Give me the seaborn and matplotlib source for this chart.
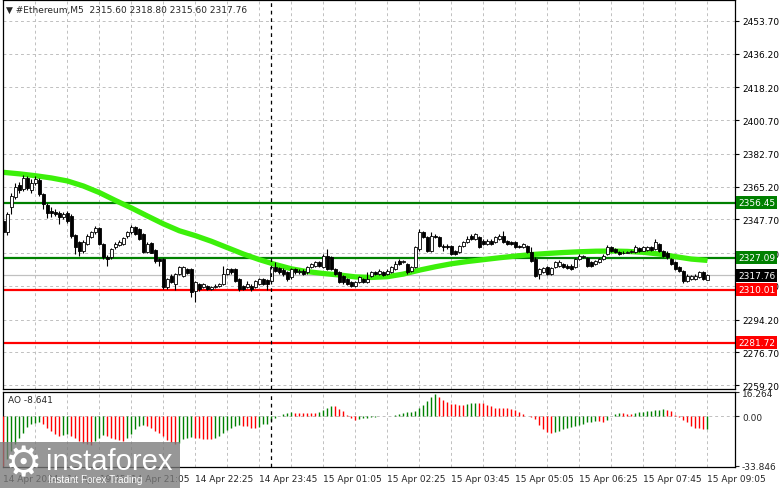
import numpy as np
import pandas as pd
import matplotlib
matplotlib.use("Agg")
import matplotlib.pyplot as plt
import matplotlib.transforms as mtransforms
from matplotlib.patches import Rectangle
import seaborn as sns

# M5 candles, 14 Apr 18:25 -> 15 Apr 09:05
opens = [2347.0, 2340.8, 2354.2, 2359.5, 2366.3, 2364.0, 2370.0, 2363.5, 2367.0, 2368.8,
         2361.3, 2355.6, 2352.4, 2351.8, 2351.0, 2348.8, 2351.0, 2349.7, 2339.6, 2335.5,
         2331.0, 2334.6, 2338.2, 2340.8, 2343.1, 2334.6, 2327.5, 2327.5, 2332.8, 2334.2,
         2334.6, 2339.0, 2340.8, 2343.5, 2342.6, 2340.0, 2330.1, 2334.9, 2331.4, 2326.6,
         2326.6, 2311.4, 2317.7, 2313.2, 2318.6, 2317.6, 2321.0, 2321.2, 2309.6, 2313.2,
         2311.4, 2312.3, 2310.5, 2311.4, 2312.3, 2313.2, 2318.5, 2321.2, 2321.2, 2315.9,
         2312.3, 2311.4, 2312.3, 2311.4, 2313.2, 2315.9, 2315.3, 2315.0, 2322.1, 2321.6,
         2320.8, 2319.4, 2316.8, 2321.2, 2319.4, 2320.3, 2319.4, 2322.1, 2323.0, 2324.8,
         2322.1, 2328.3, 2327.4, 2321.2, 2319.4, 2317.6, 2315.9, 2314.1, 2312.3, 2314.1,
         2315.9, 2314.5, 2317.6, 2319.4, 2318.5, 2319.4, 2318.5, 2319.4, 2321.2, 2325.7,
         2324.8, 2323.9, 2320.3, 2322.1, 2331.9, 2340.8, 2338.1, 2331.0, 2339.0, 2338.1,
         2333.7, 2333.7, 2333.7, 2331.0, 2330.1, 2333.7, 2335.4, 2339.0, 2337.2, 2338.1,
         2336.3, 2334.5, 2336.3, 2335.4, 2337.2, 2339.0, 2336.3, 2335.4, 2335.4, 2333.7,
         2332.8, 2333.7, 2330.1, 2326.5, 2318.5, 2319.8, 2322.1, 2318.5, 2322.1, 2323.0,
         2323.9, 2323.0, 2323.0, 2322.1, 2326.5, 2327.4, 2326.9, 2324.8, 2323.9, 2324.8,
         2326.5, 2329.2, 2332.8, 2331.9, 2330.1, 2329.5, 2330.0, 2330.5, 2330.1, 2332.2,
         2331.0, 2331.5, 2332.8, 2331.9, 2334.5, 2331.0, 2330.0, 2326.5, 2324.8, 2322.1,
         2320.3, 2315.0, 2315.9, 2315.9, 2316.8, 2319.4, 2315.6]
closes = [2340.8, 2350.6, 2360.0, 2364.8, 2363.4, 2370.0, 2364.5, 2367.0, 2369.0, 2361.3,
          2356.0, 2351.0, 2351.0, 2350.6, 2348.8, 2350.6, 2347.0, 2339.0, 2332.8, 2330.7,
          2335.5, 2339.0, 2340.8, 2343.0, 2334.6, 2327.5, 2326.6, 2331.9, 2334.6, 2335.5,
          2337.8, 2340.8, 2343.8, 2340.0, 2337.3, 2330.1, 2334.6, 2330.0, 2325.7, 2325.7,
          2311.4, 2315.9, 2314.1, 2318.6, 2322.1, 2322.1, 2319.0, 2308.7, 2314.1, 2310.5,
          2313.2, 2310.5, 2311.4, 2312.3, 2313.2, 2318.5, 2321.2, 2319.4, 2315.0, 2310.5,
          2310.5, 2313.2, 2310.5, 2315.0, 2315.9, 2313.2, 2313.2, 2322.1, 2320.3, 2319.4,
          2318.5, 2315.9, 2321.2, 2319.4, 2320.3, 2318.5, 2322.1, 2323.9, 2324.8, 2323.0,
          2328.3, 2321.2, 2321.2, 2318.5, 2314.1, 2314.1, 2313.2, 2312.3, 2314.1, 2316.8,
          2314.1, 2315.9, 2319.4, 2318.5, 2320.3, 2318.0, 2320.3, 2322.1, 2323.9, 2323.9,
          2325.7, 2319.4, 2322.1, 2332.8, 2340.8, 2338.1, 2331.0, 2339.0, 2338.1, 2333.7,
          2332.8, 2332.8, 2329.2, 2329.2, 2333.7, 2335.4, 2337.2, 2337.2, 2339.9, 2332.8,
          2334.5, 2336.3, 2334.5, 2338.1, 2339.0, 2335.4, 2334.5, 2334.5, 2332.8, 2332.8,
          2334.5, 2330.1, 2325.7, 2317.6, 2321.2, 2321.6, 2318.5, 2321.6, 2324.8, 2325.0,
          2322.1, 2321.6, 2321.2, 2326.5, 2328.3, 2328.0, 2323.0, 2323.0, 2325.7, 2326.5,
          2328.3, 2332.8, 2331.0, 2330.1, 2329.2, 2330.0, 2330.5, 2331.0, 2332.8, 2331.0,
          2332.8, 2332.8, 2331.5, 2335.4, 2331.0, 2328.3, 2327.4, 2323.9, 2321.2, 2320.3,
          2315.0, 2317.6, 2317.6, 2317.6, 2319.4, 2315.9, 2317.76]
highs = [2349.0, 2351.5, 2362.0, 2367.0, 2367.5, 2371.5, 2371.0, 2369.0, 2371.0, 2370.0,
         2362.0, 2356.5, 2354.5, 2353.0, 2352.0, 2351.5, 2352.0, 2350.5, 2340.0, 2336.0,
         2336.5, 2340.0, 2341.5, 2344.4, 2343.8, 2335.0, 2328.5, 2332.5, 2335.5, 2336.5,
         2338.5, 2341.5, 2344.5, 2344.0, 2343.0, 2340.5, 2335.5, 2335.5, 2332.0, 2327.0,
         2327.0, 2316.5, 2318.5, 2319.0, 2322.8, 2322.8, 2322.0, 2321.8, 2315.0, 2313.8,
         2314.0, 2312.8, 2312.0, 2313.0, 2314.0, 2323.0, 2322.0, 2322.0, 2321.8, 2316.5,
         2312.8, 2315.0, 2313.0, 2315.5, 2316.5, 2316.5, 2316.0, 2323.0, 2325.0, 2322.5,
         2321.5, 2320.0, 2322.0, 2322.0, 2321.0, 2321.0, 2323.0, 2324.5, 2325.5, 2325.5,
         2329.2, 2331.9, 2328.0, 2322.0, 2320.0, 2318.0, 2316.5, 2315.0, 2314.8, 2317.5,
         2316.5, 2319.4, 2320.0, 2320.0, 2321.0, 2320.0, 2321.0, 2322.8, 2325.7, 2326.6,
         2326.2, 2324.5, 2322.8, 2333.5, 2342.6, 2341.5, 2338.8, 2340.8, 2339.8, 2338.8,
         2334.8, 2334.5, 2334.2, 2331.5, 2334.2, 2336.0, 2339.0, 2339.9, 2340.5, 2338.8,
         2337.0, 2337.0, 2337.0, 2338.8, 2339.8, 2341.7, 2336.8, 2336.0, 2336.0, 2334.2,
         2335.0, 2334.2, 2333.0, 2327.5, 2321.8, 2322.2, 2322.8, 2322.2, 2325.5, 2325.8,
         2324.5, 2323.8, 2323.8, 2327.2, 2329.0, 2328.8, 2327.5, 2325.5, 2326.2, 2327.0,
         2329.0, 2334.0, 2333.5, 2332.5, 2330.8, 2330.6, 2331.0, 2331.6, 2334.0, 2332.8,
         2333.4, 2333.4, 2333.4, 2337.2, 2335.0, 2331.6, 2330.6, 2327.0, 2325.4, 2322.8,
         2320.9, 2318.4, 2318.2, 2318.4, 2320.0, 2320.0, 2318.8]
lows = [2338.5, 2339.5, 2350.5, 2358.5, 2362.0, 2363.0, 2363.5, 2362.0, 2366.0, 2360.0,
        2353.5, 2348.5, 2349.0, 2349.5, 2345.0, 2348.0, 2346.0, 2338.0, 2329.0, 2328.0,
        2330.0, 2334.0, 2337.5, 2340.0, 2334.0, 2326.5, 2323.0, 2326.5, 2332.0, 2333.5,
        2334.0, 2338.0, 2340.0, 2339.5, 2336.5, 2329.5, 2329.5, 2329.5, 2324.5, 2323.0,
        2310.5, 2310.5, 2313.5, 2310.0, 2318.0, 2317.0, 2318.5, 2306.5, 2303.5, 2309.5,
        2310.8, 2309.8, 2310.0, 2310.8, 2311.8, 2312.8, 2318.0, 2318.8, 2314.5, 2309.5,
        2309.8, 2310.8, 2309.5, 2310.8, 2312.5, 2312.5, 2310.0, 2314.5, 2319.5, 2318.5,
        2317.5, 2315.0, 2316.0, 2318.8, 2318.8, 2317.8, 2318.8, 2321.5, 2322.5, 2322.5,
        2321.5, 2320.5, 2320.5, 2317.8, 2313.5, 2313.0, 2312.5, 2311.5, 2311.5, 2313.5,
        2313.5, 2314.0, 2317.0, 2318.0, 2318.0, 2317.5, 2318.0, 2319.0, 2320.8, 2323.5,
        2324.2, 2318.8, 2319.8, 2321.5, 2331.0, 2337.5, 2330.5, 2330.5, 2337.5, 2333.0,
        2331.0, 2332.0, 2328.5, 2328.5, 2329.5, 2333.0, 2335.0, 2336.8, 2336.8, 2332.2,
        2334.0, 2334.0, 2334.0, 2335.0, 2336.8, 2335.0, 2334.0, 2333.8, 2332.2, 2332.2,
        2332.2, 2329.5, 2325.0, 2317.0, 2316.0, 2319.2, 2318.0, 2318.0, 2321.5, 2322.5,
        2321.5, 2321.0, 2320.5, 2321.5, 2326.0, 2327.0, 2322.5, 2322.5, 2323.5, 2324.2,
        2326.0, 2328.8, 2330.5, 2329.5, 2328.8, 2329.0, 2329.6, 2330.0, 2329.8, 2330.5,
        2330.6, 2331.0, 2331.0, 2331.5, 2330.5, 2327.8, 2326.8, 2323.2, 2320.6, 2319.6,
        2313.8, 2314.2, 2315.2, 2315.2, 2316.2, 2315.2, 2315.6]

# moving average, read every 4th bar
ma_values = [2372.8, 2372.0, 2371.0, 2369.8, 2368.2, 2365.5, 2362.0, 2357.8, 2353.8, 2349.5,
             2345.3, 2341.6, 2339.0, 2336.0, 2332.6, 2329.2, 2326.2, 2323.6, 2321.3, 2319.8,
             2318.8, 2318.0, 2317.0, 2316.7, 2317.1, 2318.5, 2320.6, 2322.4, 2324.0, 2325.2,
             2326.2, 2327.2, 2328.1, 2328.9, 2329.5, 2330.0, 2330.4, 2330.7, 2330.8, 2330.6,
             2330.1, 2329.2, 2327.8, 2326.5, 2325.8]

# Awesome Oscillator
ao_values = [-33.846, -29.3, -23.6, -19.1, -14.5, -11.1, -7.5, -5.5, -4.3, -3.6,
             -5.5, -7.7, -10.0, -12.3, -13.4, -13.0, -12.3, -13.4, -14.5, -16.8,
             -18.0, -19.1, -19.5, -16.8, -14.5, -12.7, -13.4, -14.5, -15.7, -16.4,
             -16.8, -14.5, -12.3, -8.9, -6.6, -5.9, -6.6, -8.2, -10.0, -11.1,
             -13.4, -16.4, -17.3, -18.6, -17.9, -15.7, -14.5, -14.1, -14.5, -15.0,
             -15.2, -15.5, -15.7, -14.5, -13.4, -11.1, -9.5, -7.7, -6.6, -6.1,
             -6.4, -6.8, -7.7, -8.2, -7.3, -5.5, -5.0, -3.5, -1.5, 0.2,
             1.6, 2.3, 2.7, 2.5, 2.4, 2.3, 2.2, 2.1, 2.0, 2.7,
             4.0, 5.5, 7.2, 6.8, 5.0, 3.5, 0.8, -1.4, -2.3, -1.8,
             -1.4, -0.9, -0.5, -0.3, 0.0, 0.2, 0.3, 0.5, 0.9, 1.6,
             2.3, 2.7, 3.2, 3.9, 5.5, 7.7, 10.7, 13.0, 15.2, 13.0,
             11.4, 10.0, 8.4, 8.2, 7.7, 7.6, 8.4, 8.9, 9.1, 9.0,
             8.9, 7.7, 6.8, 5.9, 5.7, 5.5, 5.4, 5.0, 4.5, 2.7,
             1.6, 0.5, -0.7, -1.8, -5.9, -8.6, -10.9, -11.4, -10.5, -9.8,
             -8.6, -8.2, -7.5, -6.8, -5.9, -5.0, -4.1, -3.6, -3.2, -3.4,
             -3.6, -2.5, 0.1, 1.6, 2.0, 1.9, 1.8, 1.7, 2.3, 2.7,
             3.2, 3.4, 3.9, 4.3, 4.5, 5.0, 4.5, 3.9, 0.9, -0.7,
             -2.3, -4.1, -6.4, -8.0, -8.2, -8.7, -8.641]

level_prices = [2356.45, 2327.09, 2310.01, 2281.72]
level_colors = ["#008000", "#008000", "#ff0000", "#ff0000"]
bid_price = 2317.76
price_ticks = [2453.70, 2436.20, 2418.20, 2400.70, 2382.70, 2365.20, 2347.70,
               2329.70, 2312.20, 2294.20, 2276.70, 2259.20]
time_labels = ["14 Apr 2024", "14 Apr 19:45", "14 Apr 21:05", "14 Apr 22:25",
               "14 Apr 23:45", "15 Apr 01:05", "15 Apr 02:25", "15 Apr 03:45",
               "15 Apr 05:05", "15 Apr 06:25", "15 Apr 07:45", "15 Apr 09:05"]
day_break = 67  # bar at 15 Apr 00:00

sns.set_style("white")
plt.rcParams['font.family'] = ['DejaVu Sans']

df = pd.DataFrame({'open': opens, 'close': closes, 'high': highs, 'low': lows})
df['bar'] = np.arange(len(df))
up = df['close'] >= df['open']

W, H = 781, 489
def box(l, t, r, b):
    return [l / W, 1 - b / H, (r - l) / W, (b - t) / H]

fig = plt.figure(figsize=(7.81, 4.89), dpi=100)
ax = fig.add_axes(box(3, 1, 735, 390))
ax2 = fig.add_axes(box(3, 392.5, 735, 468))
xlim = (-0.1, 182.9)
grid_ls = (0, (3, 3))

# price panel
ax.set_xlim(*xlim)
ax.set_ylim(2257.15, 2464.8)
ax.set_yticks(price_ticks)
ax.set_yticklabels([f"{p:.2f}" for p in price_ticks])
ax.yaxis.tick_right()
ax.tick_params(axis='y', length=3, labelsize=6.5, pad=2, colors='black')
ax.set_xticks(np.arange(0, 183, 8))
ax.tick_params(axis='x', length=0, labelbottom=False)
ax.grid(True, ls=grid_ls, color='#c0c0c0', lw=0.7)

ax.axhline(bid_price, color='#c0c0c0', lw=0.9, zorder=1)
for p, c in zip(level_prices, level_colors):
    ax.axhline(p, color=c, lw=1.6, zorder=2)

sns.lineplot(x=np.arange(0, len(df), 4), y=ma_values, ax=ax,
             color='#3cf00a', lw=3.8, zorder=2.5, solid_capstyle='butt')

ax.vlines(df['bar'], df['low'], df['high'], color='black', lw=0.8, zorder=3)
ax.bar(df['bar'][up], (df['close'] - df['open'])[up], bottom=df['open'][up],
       width=0.75, color='white', edgecolor='black', lw=0.6, zorder=4)
ax.bar(df['bar'][~up], (df['close'] - df['open'])[~up], bottom=df['open'][~up],
       width=0.75, color='black', edgecolor='black', lw=0.6, zorder=4)
ax.axvline(day_break, color='black', ls=(0, (3, 3)), lw=0.9, zorder=5)

trans = mtransforms.blended_transform_factory(ax.transAxes, ax.transData)
for p, c in zip(level_prices + [bid_price], level_colors + ['black']):
    ax.text(1.004, p, f"{p:.2f}", transform=trans, color='white', fontsize=6.5,
            va='center', ha='left', clip_on=False, zorder=10,
            bbox=dict(boxstyle='square,pad=0.22', fc=c, ec='none'))

# AO panel
ao = np.array(ao_values)
ao_colors = ['#ff0000'] + ['#008000' if ao[i] > ao[i - 1] else '#ff0000'
                           for i in range(1, len(ao))]
ax2.set_xlim(*xlim)
ax2.set_ylim(-34.6, 16.9)
ax2.vlines(df['bar'], 0, ao, colors=ao_colors, lw=1.0, zorder=3)
ax2.axhline(0, color='#c0c0c0', ls=grid_ls, lw=0.7, zorder=1)
ax2.axvline(day_break, color='black', ls=(0, (3, 3)), lw=0.9, zorder=5)
ax2.set_yticks([16.264, 0, -33.846])
ax2.set_yticklabels(["16.264", "0.00", "-33.846"])
ax2.yaxis.tick_right()
ax2.tick_params(axis='y', length=3, labelsize=6.5, pad=2)
grid_bars = np.arange(0, 183, 8)
ax2.set_xticks(grid_bars)
ax2.set_xticklabels([time_labels[k // 2] if k % 2 == 0 else '' for k in range(len(grid_bars))],
                    ha='left', fontsize=6.5)
ax2.tick_params(axis='x', length=3, pad=2)
ax2.grid(True, axis='x', ls=grid_ls, color='#c0c0c0', lw=0.7)
ax2.text(0.007, 0.9, "AO -8.641", transform=ax2.transAxes, fontsize=6.5, va='center')

for a in (ax, ax2):
    for s in a.spines.values():
        s.set_color('black')
        s.set_linewidth(0.9)

fig.text(6 / W, 1 - 10 / H, "\u25bc #Ethereum,M5  2315.60 2318.80 2315.60 2317.76",
         fontsize=6.5, va='center')

# watermark
fig.patches.append(Rectangle((0, 0), 180 / W, 46 / H, transform=fig.transFigure,
                             fc='#7a7a7a', ec='none', alpha=0.78, zorder=20))
fig.text(23 / W, 1 - 464 / H, "\u2699", fontsize=30, color='white', ha='center',
         va='center', zorder=21)
fig.text(46 / W, 1 - 462 / H, "instaforex", fontsize=21, color='white',
         family='Liberation Sans', va='center', zorder=21)
fig.text(48 / W, 1 - 480 / H, "Instant Forex Trading", fontsize=7.2, color='white',
         family='Liberation Sans', va='center', zorder=21)

fig.savefig("out.png", dpi=100)
